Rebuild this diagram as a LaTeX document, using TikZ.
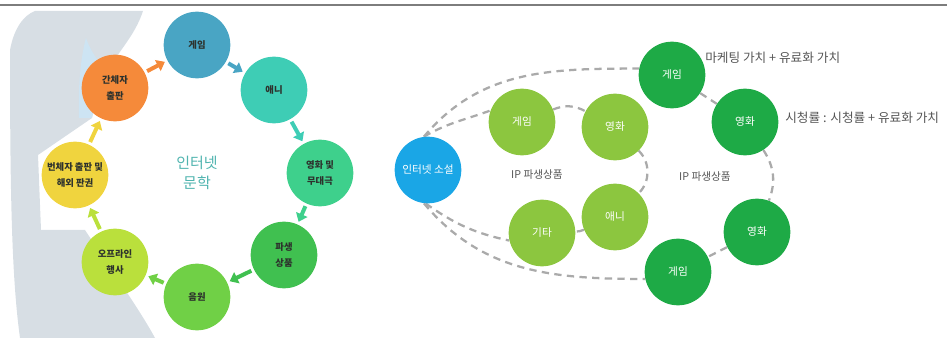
\documentclass[tikz,border=0pt]{standalone}
\usepackage{fontspec}
\setmainfont{Noto Sans CJK KR}
\usetikzlibrary{arrows.meta,backgrounds}
\definecolor{mapgray}{RGB}{215,222,228}
\definecolor{mapblue}{RGB}{205,228,243}
\definecolor{topgray}{RGB}{125,125,125}
\definecolor{cGame}{RGB}{73,165,196}
\definecolor{cAni}{RGB}{62,205,181}
\definecolor{cFilm}{RGB}{62,208,140}
\definecolor{cDeriv}{RGB}{64,192,80}
\definecolor{cMusic}{RGB}{112,208,70}
\definecolor{cOff}{RGB}{186,224,60}
\definecolor{cTrad}{RGB}{240,212,62}
\definecolor{cSimp}{RGB}{245,138,58}
\definecolor{cNovel}{RGB}{26,166,230}
\definecolor{cLight}{RGB}{140,198,63}
\definecolor{cDark}{RGB}{30,170,70}
\definecolor{txtdark}{RGB}{45,50,45}
\definecolor{titleteal}{RGB}{80,180,175}
\definecolor{dashgray}{RGB}{170,170,170}
\definecolor{notegray}{RGB}{85,85,85}
\begin{document}
\begin{tikzpicture}[x=0.75pt,y=0.75pt,
  circ/.style={circle,minimum size=50pt,inner sep=0pt,align=center,
    font=\fontsize{7}{12.5}\selectfont\bfseries,text=txtdark},
  rcirc/.style={circle,minimum size=50pt,inner sep=0pt,align=center,
    font=\fontsize{8}{10}\selectfont,text=white},
  cyc/.style={-{Triangle[length=6pt,width=9pt]},line width=3pt,
    shorten >=2pt,shorten <=2pt},
  dline/.style={draw=dashgray,line width=1.7pt,dash pattern=on 5.5pt off 4pt},
  iplabel/.style={font=\fontsize{8}{10}\selectfont,text=notegray,inner sep=0pt},
  note/.style={font=\fontsize{9.5}{11}\selectfont,text=notegray,inner sep=0pt,anchor=west}]
\useasboundingbox (0,0) rectangle (947,-338);
% background map
\fill[mapgray] (10,-50) .. controls (14,-28) and (24,-15) .. (35,-11)
  -- (143,-11) .. controls (130,-50) and (100,-62) .. (92,-118)
  -- (38,-155) -- (41,-230) -- (85,-230)
  .. controls (110,-268) and (140,-310) .. (155,-338)
  -- (20,-338) .. controls (12,-280) and (10,-200) .. (10,-50) -- cycle;
\fill[mapblue] (86,-38) .. controls (92,-55) and (100,-62) .. (104,-70)
  -- (92,-118) -- (79,-118) .. controls (78,-90) and (80,-60) .. (86,-38) -- cycle;
% top rule
\draw[topgray,line width=1.5pt] (0,-5) -- (947,-5);
% left cycle
\node[circ,fill=cGame] (lgame) at (197,-45) {게임};
\node[circ,fill=cAni] (lani) at (274,-90) {애니};
\node[circ,fill=cFilm] (lfilm) at (320,-173) {영화 및\\무대극};
\node[circ,fill=cDeriv] (lderiv) at (284,-255) {파생\\상품};
\node[circ,fill=cMusic] (lmusic) at (197,-297) {음원};
\node[circ,fill=cOff] (loff) at (115,-262) {오프라인\\행사};
\node[circ,fill=cTrad] (ltrad) at (75,-175) {번체자 출판 및\\해외 판권};
\node[circ,fill=cSimp] (lsimp) at (115,-88) {간체자\\출판};
\node[font=\fontsize{11.25}{15}\selectfont,text=titleteal,align=center] (ltitle) at (197,-173) {인터넷\\문학};
\draw[cyc,cSimp] (lsimp) -- (lgame);
\draw[cyc,cGame] (lgame) -- (lani);
\draw[cyc,cAni] (lani) -- (lfilm);
\draw[cyc,cFilm] (lfilm) -- (lderiv);
\draw[cyc,cDeriv] (lderiv) -- (lmusic);
\draw[cyc,cMusic] (lmusic) -- (loff);
\draw[cyc,cOff] (loff) -- (ltrad);
\draw[cyc,cTrad] (ltrad) -- (lsimp);
% right diagram
\node[rcirc,fill=cNovel] (novel) at (428,-170) {인터넷 소설};
\node[rcirc,fill=cLight] (glt) at (522,-122) {게임};
\node[rcirc,fill=cLight] (flt) at (615,-127) {영화};
\node[rcirc,fill=cLight] (gita) at (542,-233) {기타};
\node[rcirc,fill=cLight] (ani) at (615,-217) {애니};
\node[rcirc,fill=cDark] (dtop) at (672,-75) {게임};
\node[rcirc,fill=cDark] (dfilm) at (745,-122) {영화};
\node[rcirc,fill=cDark] (dfilm2) at (757,-232) {영화};
\node[rcirc,fill=cDark] (dbot) at (678,-272) {게임};
\node[iplabel] (ip1) at (537,-175) {IP 파생상품};
\node[iplabel] (ip2) at (705,-177) {IP 파생상품};
\node[note] (n1) at (705,-58) {마케팅 가치 + 유료화 가치};
\node[note] (n2) at (785,-118) {시청률 : 시청률 + 유료화 가치};
\begin{scope}[on background layer]
\draw[dline] (novel.97) to[out=50,in=180] (dtop.169);
\draw[dline] (novel.97) to[out=30,in=200] (glt.160);
\draw[dline] (novel.263) to[out=-50,in=180] (dbot.192);
\draw[dline] (novel.266) to[out=-35,in=168] (gita.193);
\draw[dline] (glt) to[bend left=25] (flt);
\draw[dline] (flt) to[bend left=45] (ani);
\draw[dline] (ani) to[bend left=10] (gita);
\draw[dline] (dtop) -- (dfilm);
\draw[dline] (dfilm) to[bend left=27] (dfilm2);
\draw[dline] (dfilm2) -- (dbot);
\end{scope}
\end{tikzpicture}
\end{document}
